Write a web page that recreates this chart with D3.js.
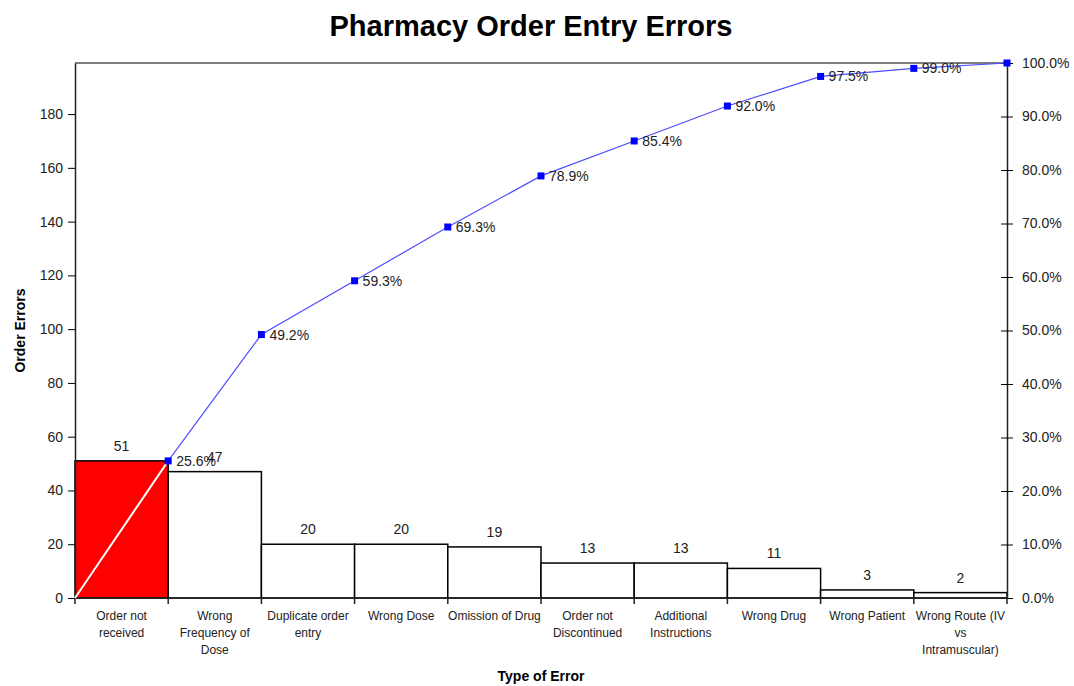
<!DOCTYPE html>
<html>
<head>
<meta charset="utf-8">
<script src="https://cdn.jsdelivr.net/npm/d3@7"></script>
<style>
  body { margin: 0; background: #fff; }
  text { font-family: Arial, "Liberation Sans", sans-serif; }
</style>
</head>
<body>
<svg id="chart" width="1074" height="686"></svg>
<script>
var categories = ["Order not\nreceived", "Wrong\nFrequency of\nDose", "Duplicate order\nentry", "Wrong Dose",
                  "Omission of Drug", "Order not\nDiscontinued", "Additional\nInstructions", "Wrong Drug",
                  "Wrong Patient", "Wrong Route (IV\nvs\nIntramuscular)"]
var errors = [51, 47, 20, 20, 19, 13, 13, 11, 3, 2]
var leftTicks = [0, 20, 40, 60, 80, 100, 120, 140, 160, 180]
var rightTicks = [0, 0.1, 0.2, 0.3, 0.4, 0.5, 0.6, 0.7, 0.8, 0.9, 1.0]

var svg = d3.select("#chart")
var margin = {top: 63, bottom: 88, left: 75, right: 67}
var width = 1074 - margin.left - margin.right
var height = 686 - margin.top - margin.bottom

var total = d3.sum(errors)
var cumul = []
var run = 0
for (var i = 0; i < errors.length; i++) {
  run += errors[i]
  cumul.push(run)
}

var xScale = d3.scaleBand().domain(d3.range(errors.length)).range([margin.left, margin.left + width]).padding(0)
var xEdge = d3.scaleLinear().domain([0, errors.length]).range([margin.left, margin.left + width])
var yScale = d3.scaleLinear().domain([0, total]).range([margin.top + height, margin.top])
var pScale = d3.scaleLinear().domain([0, 1]).range([margin.top + height, margin.top])

// title
svg.append("text").attr("x", 531).attr("y", 36).attr("text-anchor", "middle")
  .attr("font-size", "29px").attr("font-weight", "bold").text("Pharmacy Order Entry Errors")

// top border
svg.append("line").attr("x1", margin.left).attr("x2", margin.left + width)
  .attr("y1", margin.top).attr("y2", margin.top).attr("stroke", "#555").attr("stroke-width", 1.5)

// bars
svg.append("g").selectAll("rect").data(errors).enter()
  .append("rect")
  .attr("x", function (d, i) { return xScale(i) })
  .attr("y", function (d) { return yScale(d) })
  .attr("width", xScale.bandwidth())
  .attr("height", function (d) { return yScale(0) - yScale(d) })
  .attr("fill", function (d, i) { return i == 0 ? "#ff0000" : "white" })
  .attr("stroke", "black")
  .attr("stroke-width", 1.5)

// bar labels
svg.append("g").selectAll("text").data(errors).enter()
  .append("text")
  .attr("x", function (d, i) { return xScale(i) + xScale.bandwidth() / 2 })
  .attr("y", function (d) { return yScale(d) - 10 })
  .attr("text-anchor", "middle")
  .attr("font-size", "14px")
  .attr("fill", "#222")
  .text(function (d) { return d })

// left axis
var leftAxis = svg.append("g").attr("transform", "translate(" + margin.left + ",0)")
  .call(d3.axisLeft(yScale).tickValues(leftTicks).tickSize(7).tickSizeOuter(0).tickPadding(5))
leftAxis.select(".domain").attr("stroke", "#222").attr("stroke-width", 1.5)
leftAxis.selectAll("text").attr("font-size", "14px").attr("fill", "#222")
  .style("font-family", "Arial, 'Liberation Sans', sans-serif")

// right axis
var rightAxis = svg.append("g").attr("transform", "translate(" + (margin.left + width) + ",0)")
  .call(d3.axisRight(pScale).tickValues(rightTicks).tickSize(6).tickSizeOuter(0).tickPadding(9).tickFormat(d3.format(".1%")))
rightAxis.select(".domain").attr("stroke", "#222").attr("stroke-width", 1.5)
rightAxis.selectAll(".tick line").attr("x1", -6)
rightAxis.selectAll("text").attr("font-size", "14px").attr("fill", "#222")
  .style("font-family", "Arial, 'Liberation Sans', sans-serif")

// bottom axis with ticks at bar boundaries
var bottom = svg.append("g")
bottom.append("line").attr("x1", margin.left).attr("x2", margin.left + width)
  .attr("y1", yScale(0)).attr("y2", yScale(0)).attr("stroke", "#222").attr("stroke-width", 1.5)
bottom.selectAll("line.tk").data(d3.range(errors.length + 1)).enter()
  .append("line").attr("class", "tk")
  .attr("x1", function (d) { return xEdge(d) }).attr("x2", function (d) { return xEdge(d) })
  .attr("y1", yScale(0)).attr("y2", yScale(0) + 6)
  .attr("stroke", "#222").attr("stroke-width", 1.5)

var catLabels = bottom.selectAll("text.cat").data(categories).enter()
  .append("text").attr("class", "cat")
  .attr("text-anchor", "middle")
  .attr("font-size", "12px")
  .attr("fill", "#222")
catLabels.each(function (d, i) {
  var lines = d.split("\n")
  var t = d3.select(this)
  for (var k = 0; k < lines.length; k++) {
    t.append("tspan")
      .attr("x", xScale(i) + xScale.bandwidth() / 2)
      .attr("y", yScale(0) + 22 + k * 17)
      .text(lines[k])
  }
})

// axis titles
svg.append("text").attr("transform", "translate(25," + (margin.top + height / 2) + ") rotate(-90)")
  .attr("text-anchor", "middle").attr("font-size", "14px").attr("font-weight", "bold").text("Order Errors")
svg.append("text").attr("x", margin.left + width / 2).attr("y", 681)
  .attr("text-anchor", "middle").attr("font-size", "14px").attr("font-weight", "bold").text("Type of Error")

// cumulative line
var pts = [[xEdge(0), yScale(0)]]
for (var i = 0; i < cumul.length; i++) {
  pts.push([xEdge(i + 1), yScale(cumul[i])])
}
var line = d3.line()
svg.append("path").attr("d", line(pts.slice(1))).attr("fill", "none")
  .attr("stroke", "#4d4dff").attr("stroke-width", 1.2)
svg.append("path").attr("d", line(pts.slice(0, 2))).attr("fill", "none")
  .attr("stroke", "white").attr("stroke-width", 2)

svg.append("g").selectAll("rect").data(cumul).enter()
  .append("rect")
  .attr("x", function (d, i) { return xEdge(i + 1) - 3.5 })
  .attr("y", function (d) { return yScale(d) - 3.5 })
  .attr("width", 7).attr("height", 7)
  .attr("fill", "#0000ff")

svg.append("g").selectAll("text").data(cumul.slice(0, cumul.length - 1)).enter()
  .append("text")
  .attr("x", function (d, i) { return xEdge(i + 1) + 8 })
  .attr("y", function (d) { return yScale(d) + 5 })
  .attr("font-size", "14px")
  .attr("fill", "#222")
  .text(function (d) { return (d / total * 100).toFixed(1) + "%" })
</script>
</body>
</html>
